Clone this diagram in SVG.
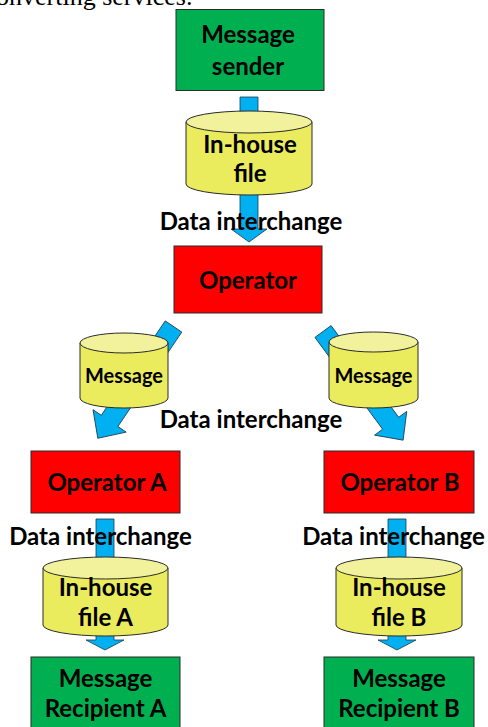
<svg xmlns="http://www.w3.org/2000/svg" width="488" height="727" viewBox="0 0 488 727">
  <style>
    .lbl { font-family: Lato, "Liberation Sans", sans-serif; font-weight: bold; fill: #000; text-anchor: middle; }
    .big { font-size: 24px; }
    .mid { font-size: 20px; }
    .box { stroke: #2b2b2b; stroke-width: 1; }
    .green { fill: #00B050; }
    .red { fill: #FF0000; }
    .body { fill: #EBEB5E; stroke: #2b2b2b; stroke-width: 1; }
    .lid { fill: #F2F29C; stroke: #2b2b2b; stroke-width: 1; }
    .arrow { fill: #00B0F0; stroke: #1e3a4a; stroke-width: 0.8; }
    .intro { font-family: "Liberation Serif", serif; font-size: 26px; fill: #000; }
  </style>

  <rect width="488" height="727" fill="#fff"/>

  <!-- running text from the page above the figure -->
  <text class="intro" x="-4" y="5">onverting services.</text>

  <!-- connectors: block arrows, drawn first so the cylinders sit over them -->
  <g id="connectors">
    <polygon class="arrow" points="240,97 258,97 258,229 267,229 249,242 231,229 240,229"/>
    <g transform="translate(173.5,326.5) rotate(124.1)">
      <polygon class="arrow" points="0,-10 114,-10 114,-20 135,0 114,20 114,10 0,10"/>
    </g>
    <g transform="translate(323,331.5) rotate(53.6)">
      <polygon class="arrow" points="0,-10 114,-10 114,-20 135,0 114,20 114,10 0,10"/>
    </g>
    <polygon class="arrow" points="96,519 114,519 114,640 124,640 105,650 86,640 96,640"/>
    <polygon class="arrow" points="388,519 406,519 406,640 416,640 397,650 378,640 388,640"/>
  </g>

  <g id="sender">
    <rect class="box green" x="176" y="9.5" width="148" height="81"/>
    <text class="lbl big" x="248" y="43">Message</text>
    <text class="lbl big" x="248" y="75">sender</text>
  </g>

  <g id="inhouse-file">
    <path class="body" d="M186,122 V184 A63,11 0 0 0 312,184 V122 Z"/>
    <ellipse class="lid" cx="249" cy="122" rx="63" ry="11"/>
    <text class="lbl big" x="250" y="153">In-house</text>
    <text class="lbl big" x="250" y="182">file</text>
  </g>

  <g id="label-top">
    <text class="lbl big" x="251" y="230">Data interchange</text>
  </g>

  <g id="operator">
    <rect class="box red" x="174" y="246" width="148" height="67"/>
    <text class="lbl big" x="248" y="289">Operator</text>
  </g>

  <g id="message-a">
    <path class="body" d="M80,343 V398 A44,10 0 0 0 168,398 V343 Z"/>
    <ellipse class="lid" cx="124" cy="343" rx="44" ry="10"/>
    <text class="lbl mid" x="124" y="383">Message</text>
  </g>

  <g id="message-b">
    <path class="body" d="M329,342 V398 A44.5,10 0 0 0 418,398 V342 Z"/>
    <ellipse class="lid" cx="373.5" cy="342" rx="44.5" ry="10"/>
    <text class="lbl mid" x="373.5" y="383">Message</text>
  </g>

  <g id="label-middle">
    <text class="lbl big" x="251" y="428">Data interchange</text>
  </g>

  <g id="operator-a">
    <rect class="box red" x="31" y="451" width="149" height="62"/>
    <text class="lbl big" x="107" y="491">Operator A</text>
  </g>

  <g id="operator-b">
    <rect class="box red" x="324" y="451" width="150" height="62"/>
    <text class="lbl big" x="400" y="491">Operator B</text>
  </g>

  <g id="label-a">
    <text class="lbl big" x="100.5" y="545">Data interchange</text>
  </g>
  <g id="label-b">
    <text class="lbl big" x="393.5" y="545">Data interchange</text>
  </g>

  <g id="inhouse-file-a">
    <path class="body" d="M43,568 V625 A62.5,11 0 0 0 168,625 V568 Z"/>
    <ellipse class="lid" cx="105.5" cy="568" rx="62.5" ry="11"/>
    <text class="lbl big" x="105.5" y="596">In-house</text>
    <text class="lbl big" x="105.5" y="626">file A</text>
  </g>

  <g id="inhouse-file-b">
    <path class="body" d="M336,568 V625 A63,11 0 0 0 462,625 V568 Z"/>
    <ellipse class="lid" cx="399" cy="568" rx="63" ry="11"/>
    <text class="lbl big" x="399" y="596">In-house</text>
    <text class="lbl big" x="399" y="626">file B</text>
  </g>

  <g id="recipient-a">
    <rect class="box green" x="31" y="657" width="149" height="90"/>
    <text class="lbl big" x="105.5" y="687">Message</text>
    <text class="lbl big" x="105.5" y="717">Recipient A</text>
  </g>

  <g id="recipient-b">
    <rect class="box green" x="324" y="657" width="150" height="90"/>
    <text class="lbl big" x="399" y="687">Message</text>
    <text class="lbl big" x="399" y="717">Recipient B</text>
  </g>
</svg>
